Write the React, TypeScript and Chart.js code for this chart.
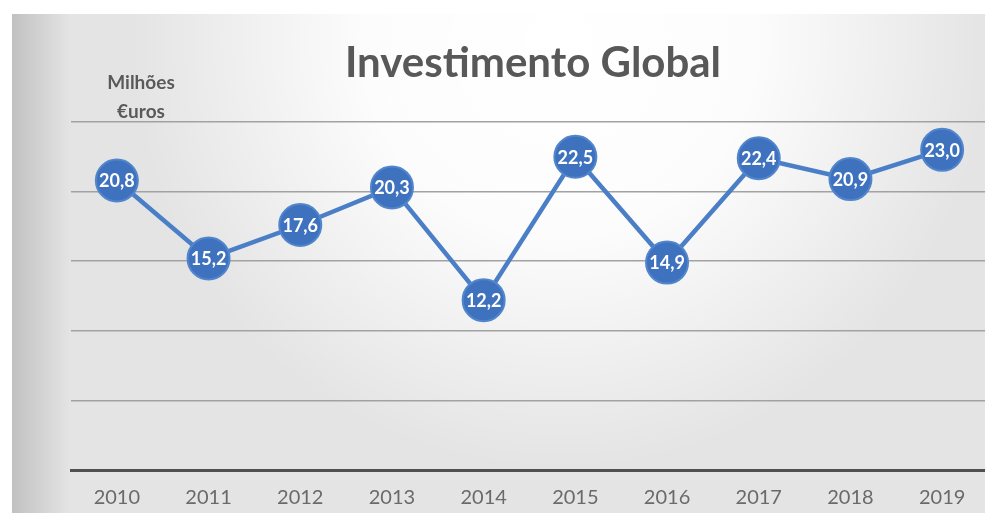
import React, { useEffect, useRef } from "react";
import { Chart, registerables } from "chart.js";

Chart.register(...registerables);

const years = ["2010", "2011", "2012", "2013", "2014", "2015", "2016", "2017", "2018", "2019"];
const investment = [20.8, 15.2, 17.6, 20.3, 12.2, 22.5, 14.9, 22.4, 20.9, 23.0];
const yMin = 0;
const yMax = 25;
const yStep = 5;
const chartTitle = "Investimento Global";
const unitLines = ["Milhões", "€uros"];

const fmt = (v: number) => v.toFixed(1).replace(".", ",");

const backgroundPlugin = {
  id: "paperBackground",
  beforeDraw(chart: any) {
    const { ctx, width, height } = chart;
    ctx.save();
    ctx.fillStyle = "#ffffff";
    ctx.fillRect(0, 0, width, height);
    ctx.fillStyle = "#e4e4e4";
    ctx.fillRect(12, 14, width - 12, height - 14);
    const rg = ctx.createRadialGradient(560, 40, 0, 560, 40, 430);
    rg.addColorStop(0, "rgba(255,255,255,1)");
    rg.addColorStop(0.45, "rgba(255,255,255,0.9)");
    rg.addColorStop(1, "rgba(255,255,255,0)");
    ctx.fillStyle = rg;
    ctx.fillRect(12, 14, width - 12, height - 14);
    const lg = ctx.createLinearGradient(12, 0, 70, 0);
    lg.addColorStop(0, "rgba(170,170,170,0.6)");
    lg.addColorStop(1, "rgba(170,170,170,0)");
    ctx.fillStyle = lg;
    ctx.fillRect(12, 14, 60, height - 14);
    ctx.restore();
  },
};

const textPlugin = {
  id: "texts",
  afterDraw(chart: any) {
    const { ctx, chartArea } = chart;
    ctx.save();
    ctx.textAlign = "center";
    ctx.textBaseline = "alphabetic";
    ctx.fillStyle = "#585858";
    ctx.font = "bold 42px Lato";
    ctx.fillText(chartTitle, 533, 77);
    ctx.font = "bold 19px Lato";
    ctx.fillStyle = "#5a5a5a";
    unitLines.forEach((t, i) => ctx.fillText(t, chartArea.left + 70, 89 + i * 29));
    ctx.restore();
  },
};

const labelPlugin = {
  id: "pointLabels",
  afterDatasetsDraw(chart: any) {
    const { ctx } = chart;
    const meta = chart.getDatasetMeta(0);
    ctx.save();
    ctx.fillStyle = "#ffffff";
    ctx.font = "bold 18px Lato";
    ctx.textAlign = "center";
    ctx.textBaseline = "middle";
    meta.data.forEach((pt: any, i: number) => {
      ctx.fillText(fmt(investment[i]), pt.x, pt.y + 1);
    });
    ctx.restore();
  },
};

export default function App() {
  const ref = useRef<HTMLCanvasElement | null>(null);
  useEffect(() => {
    if (!ref.current) return;
    const chart = new Chart(ref.current, {
      type: "line",
      data: {
        labels: years,
        datasets: [
          {
            data: investment,
            borderColor: "#4a7ec6",
            borderWidth: 4.5,
            pointRadius: 21,
            pointHoverRadius: 21,
            pointBackgroundColor: "#3e72bf",
            pointBorderColor: "#5286cc",
            pointBorderWidth: 2,
            tension: 0,
            clip: false as any,
          },
        ],
      },
      options: {
        responsive: false,
        animation: false,
        devicePixelRatio: 1,
        layout: { autoPadding: false, padding: { left: 71, top: 122, right: 2, bottom: 5 } },
        plugins: {
          legend: { display: false },
          title: { display: false },
          tooltip: { enabled: false },
        },
        scales: {
          x: {
            type: "category",
            offset: true,
            grid: { display: false, drawTicks: false },
            border: { display: true, color: "#505050", width: 3 },
            ticks: { color: "#6a6a6a", font: { family: "Lato", size: 20 }, padding: 16 },
          },
          y: {
            min: yMin,
            max: yMax,
            ticks: { stepSize: yStep, display: false },
            border: { display: false },
            grid: {
              drawTicks: false,
              color: (c: any) => (c.tick && c.tick.value === 0 ? "rgba(0,0,0,0)" : "#a2a2a2"),
              lineWidth: 1.5,
            },
          },
        },
      },
      plugins: [backgroundPlugin, textPlugin, labelPlugin],
    });
    return () => chart.destroy();
  }, []);
  return (
    <div style={{ position: "fixed", left: 0, top: 0, width: 985, height: 513, overflow: "hidden" }}>
      <canvas ref={ref} width={990} height={531} style={{ display: "block" }} />
    </div>
  );
}
